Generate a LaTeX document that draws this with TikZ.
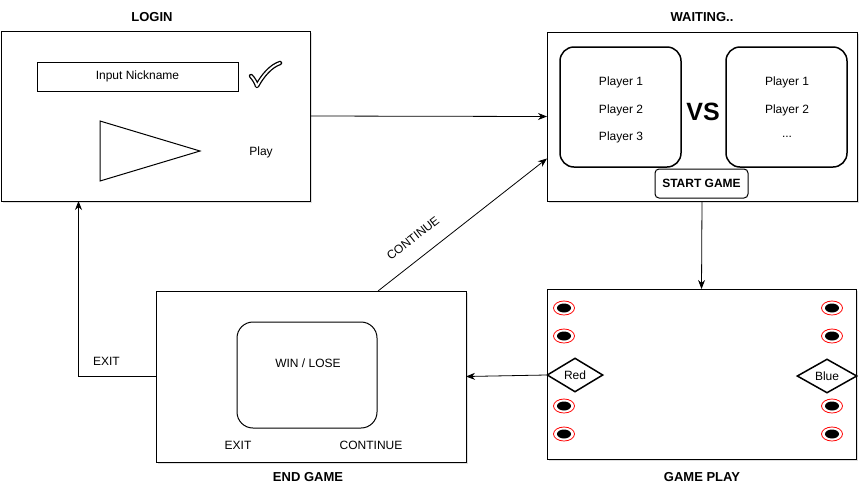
\documentclass[tikz,border=0pt]{standalone}
\usepackage{fontspec}
\setmainfont{Liberation Sans}
\usetikzlibrary{shapes.geometric,arrows.meta,shadows}

\tikzset{
  screen/.style={draw, line width=1pt, fill=white, inner sep=0pt, outer sep=0pt,
    drop shadow={shadow xshift=2pt, shadow yshift=-2pt, opacity=0.25}},
  panel/.style={draw, line width=1.5pt, rounded corners=14pt, inner sep=0pt,
    minimum width=121pt, minimum height=120pt},
  title/.style={font=\fontsize{13}{15}\selectfont\bfseries},
  lbl/.style={font=\fontsize{12}{14}\selectfont},
  flow/.style={-{Stealth[length=9pt,width=7pt]}, line width=0.8pt},
  side/.style={draw, shape=diamond, line width=1.5pt, inner sep=0pt,
    minimum width=56pt, minimum height=34pt, font=\fontsize{12}{14}\selectfont},
}

\begin{document}
\begin{tikzpicture}[x=1pt,y=-1pt]
  \useasboundingbox (0,0) rectangle (864,499);

  % screens
  \node[screen, minimum width=309pt, minimum height=170pt] (login) at (155.5,116) {};
  \node[screen, minimum width=310pt, minimum height=169pt] (waiting) at (702,116.5) {};
  \node[screen, minimum width=309pt, minimum height=170pt] (gameplay) at (701.5,374) {};
  \node[screen, minimum width=310pt, minimum height=171pt] (endgame) at (311,376.5) {};

  % titles
  \node[title] (t login) at (152,17) {LOGIN};
  \node[title] (t waiting) at (702,17) {WAITING..};
  \node[title] (t gameplay) at (702,477) {GAME PLAY};
  \node[title] (t endgame) at (308,477) {END GAME};

  % login
  \node[draw, line width=1pt, minimum width=201pt, minimum height=29pt, lbl] (nick) at (137.5,76.5) {Input Nickname};
  \foreach \c/\w in {black/4.4pt, white/1.8pt}
    \draw[\c, line width=\w, line join=round, line cap=round]
      (251,76) .. controls (254,79) and (256,83) .. (257,86)
      .. controls (263,75) and (271,66) .. (280,63);
  \draw[line width=1pt] (100,121) -- (100,181) -- (200,151) -- cycle;
  \node[lbl] (play) at (261,152) {Play};

  % waiting
  \node[panel] (team red) at (620.5,107) {};
  \node[lbl] (r1) at (621,82) {Player 1};
  \node[lbl] (r2) at (621,110) {Player 2};
  \node[lbl] (r3) at (621,137) {Player 3};
  \node[font=\fontsize{25}{28}\selectfont\bfseries] (vs) at (703,112) {VS};
  \node[panel] (team blue) at (786.5,107) {};
  \node[lbl] (b1) at (787,82) {Player 1};
  \node[lbl] (b2) at (787,110) {Player 2};
  \node[lbl] (b3) at (787,137) {...};
  \node[draw, rounded corners=4pt, line width=1pt, inner sep=0pt, minimum width=93pt, minimum height=29pt,
    font=\fontsize{12}{14}\selectfont\bfseries] (start) at (701.5,183.5) {START GAME};

  % game play
  \foreach \y in {308,336,406,434} {
    \foreach \x in {564,832} {
      \draw[red, fill=white, line width=0.8pt] (\x,\y) ellipse [x radius=10.5, y radius=7];
      \fill (\x,\y) ellipse [x radius=7, y radius=4.5];
    }
  }
  \node[side] (red) at (575,375) {Red};
  \node[side, minimum width=60pt] (blue) at (827,376) {Blue};

  % end game
  \node[draw, line width=1pt, rounded corners=16pt, minimum width=140pt, minimum height=106pt] (result) at (307,375) {};
  \node[lbl] (winlose) at (308,363) {WIN / LOSE};
  \node[lbl] (exit btn) at (238,445) {EXIT};
  \node[lbl] (cont btn) at (371,445) {CONTINUE};

  % connectors
  \draw[flow] (login.east) -- (waiting.west);
  \draw[flow] (waiting.south) -- (gameplay.north);
  \draw[flow] (red.west) -- (endgame.east);
  \draw[flow] (endgame.west) -| ([xshift=-77pt]login.south)
    node[lbl, pos=0.32, above=7pt] {EXIT};
  \draw[flow] ([xshift=67pt]endgame.north) -- ([yshift=-42pt]waiting.west)
    node[lbl, pos=0.28, sloped, above=12pt] {CONTINUE};
\end{tikzpicture}
\end{document}
